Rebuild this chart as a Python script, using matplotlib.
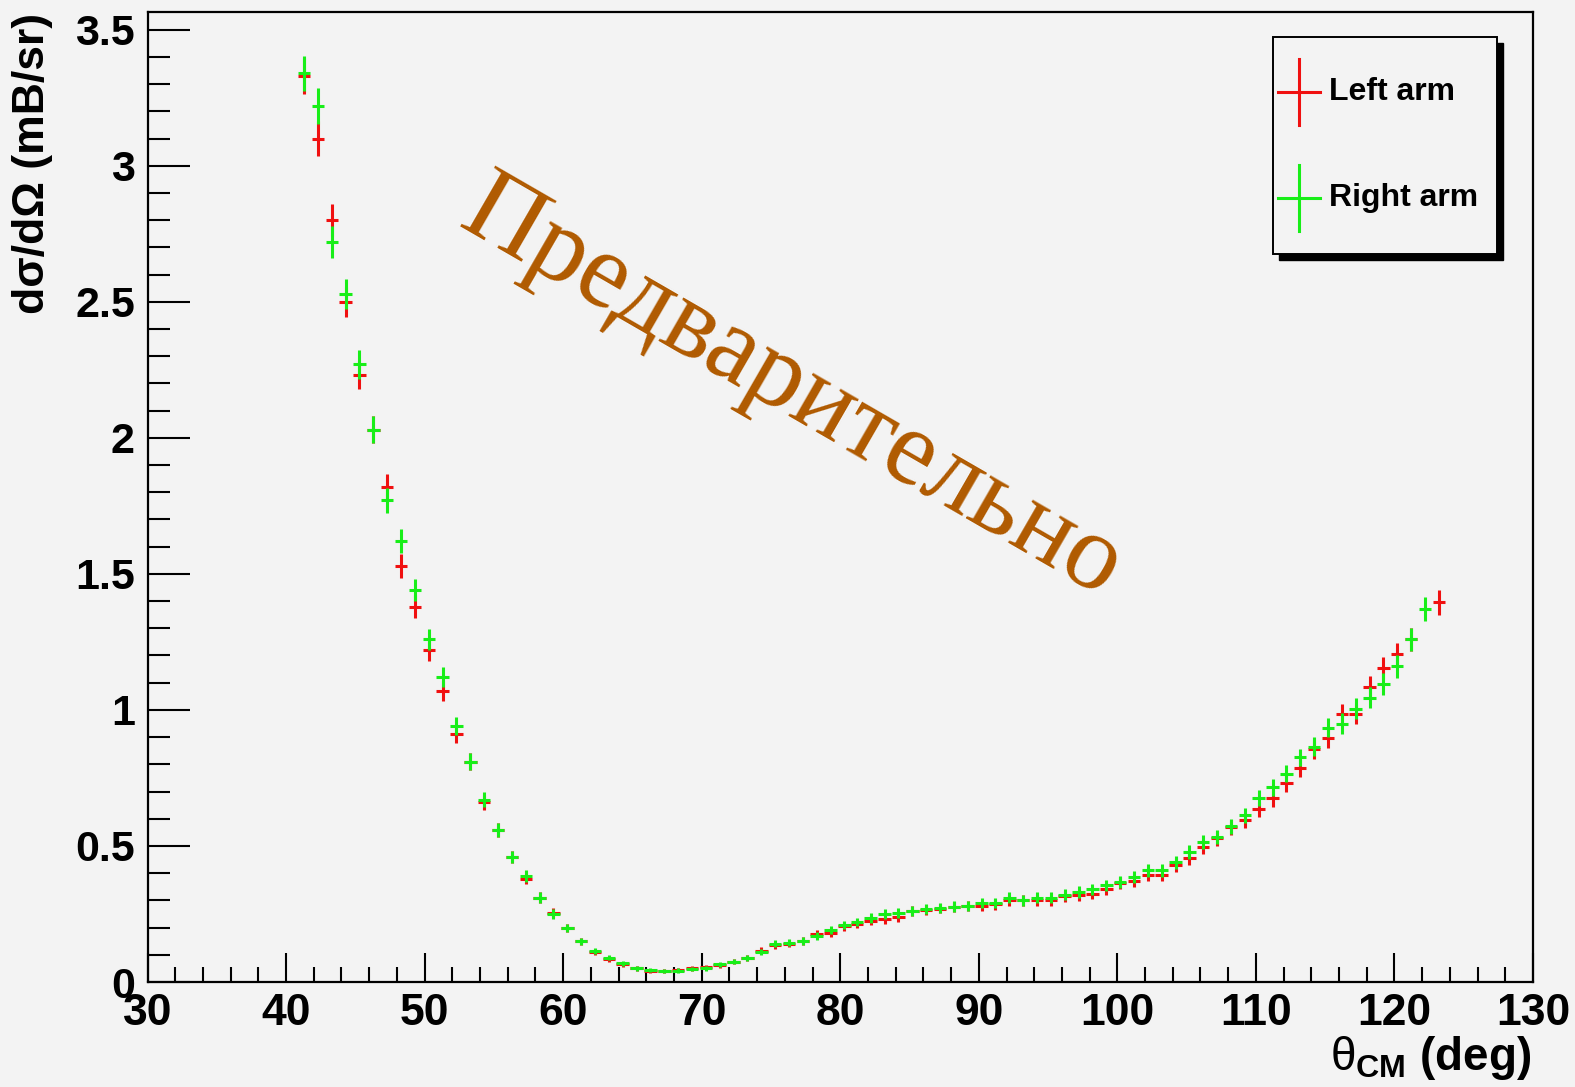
import numpy as np
import matplotlib
matplotlib.use("Agg")
import matplotlib.pyplot as plt
from matplotlib.patches import Rectangle
from matplotlib.lines import Line2D

plt.rcParams['font.family'] = ['Liberation Sans', 'DejaVu Sans']
plt.rcParams['mathtext.fontset'] = 'custom'
plt.rcParams['mathtext.rm'] = 'Liberation Sans'
plt.rcParams['mathtext.it'] = 'Liberation Sans'
plt.rcParams['mathtext.bf'] = 'Liberation Sans:bold'

nan = np.nan
theta = [41.3, 42.3, 43.3, 44.3, 45.3, 46.3, 47.3, 48.3, 49.3, 50.3,
         51.3, 52.3, 53.3, 54.3, 55.3, 56.3, 57.3, 58.3, 59.3, 60.3,
         61.3, 62.3, 63.3, 64.3, 65.3, 66.3, 67.3, 68.3, 69.3, 70.3,
         71.3, 72.3, 73.3, 74.3, 75.3, 76.3, 77.3, 78.3, 79.3, 80.3,
         81.2, 82.2, 83.2, 84.2, 85.2, 86.2, 87.2, 88.2, 89.2, 90.2,
         91.2, 92.2, 93.2, 94.2, 95.2, 96.2, 97.2, 98.2, 99.2, 100.2,
         101.2, 102.2, 103.2, 104.2, 105.2, 106.2, 107.2, 108.2, 109.2, 110.2,
         111.2, 112.2, 113.2, 114.2, 115.2, 116.2, 117.2, 118.2, 119.2, 120.2,
         121.2, 122.2, 123.2]

left_arm = [3.33, 3.10, 2.80, 2.50, 2.23, 2.03, 1.82, 1.53, 1.38, 1.22,
            1.07, 0.91, 0.81, 0.66, 0.56, 0.46, 0.38, 0.31, 0.255, 0.20,
            0.15, 0.11, 0.085, 0.065, 0.05, 0.04, 0.04, 0.043, 0.05, 0.055,
            0.062, 0.075, 0.09, 0.115, 0.135, 0.14, 0.15, 0.175, 0.18, 0.205,
            0.215, 0.225, 0.23, 0.24, 0.26, 0.265, 0.27, 0.275, 0.28, 0.28,
            0.285, 0.30, 0.30, 0.30, 0.30, 0.315, 0.32, 0.325, 0.34, 0.365,
            0.37, 0.395, 0.395, 0.43, 0.455, 0.495, 0.528, 0.568, 0.594, 0.634,
            0.675, 0.73, 0.786, 0.855, 0.895, 0.985, 0.985, 1.085, 1.155, 1.205,
            1.26, nan, 1.395]

right_arm = [3.34, 3.22, 2.72, 2.53, 2.27, 2.03, 1.77, 1.62, 1.44, 1.26,
             1.12, 0.94, 0.81, 0.67, 0.56, 0.46, 0.39, 0.31, 0.25, 0.20,
             0.15, 0.115, 0.09, 0.068, 0.05, 0.043, 0.04, 0.042, 0.047, 0.05,
             0.065, 0.075, 0.09, 0.11, 0.14, 0.145, 0.15, 0.17, 0.19, 0.21,
             0.22, 0.235, 0.25, 0.255, 0.26, 0.268, 0.273, 0.277, 0.28, 0.29,
             0.29, 0.31, 0.30, 0.31, 0.31, 0.32, 0.33, 0.34, 0.355, 0.368,
             0.385, 0.41, 0.41, 0.44, 0.477, 0.513, 0.533, 0.572, 0.612, 0.675,
             0.715, 0.766, 0.826, 0.865, 0.935, 0.95, 1.005, 1.045, 1.095, 1.16,
             1.26, 1.37, nan]

left_err = [0.065, 0.065, 0.06, 0.055, 0.052, 0.05, 0.047, 0.044, 0.041, 0.039,
            0.036, 0.033, 0.031, 0.028, 0.026, 0.023, 0.021, 0.019, 0.017, 0.015,
            0.013, 0.011, 0.01, 0.009, 0.008, 0.008, 0.008, 0.008, 0.008, 0.008,
            0.009, 0.01, 0.011, 0.012, 0.013, 0.013, 0.014, 0.015, 0.015, 0.016,
            0.016, 0.017, 0.017, 0.018, 0.018, 0.018, 0.018, 0.019, 0.019, 0.019,
            0.019, 0.02, 0.02, 0.02, 0.02, 0.02, 0.021, 0.021, 0.021, 0.022,
            0.022, 0.023, 0.023, 0.024, 0.025, 0.026, 0.027, 0.028, 0.028, 0.029,
            0.03, 0.031, 0.032, 0.034, 0.035, 0.037, 0.037, 0.038, 0.04, 0.041,
            0.042, nan, 0.045]

right_err = [0.065, 0.065, 0.058, 0.055, 0.052, 0.05, 0.047, 0.044, 0.041, 0.039,
             0.036, 0.033, 0.031, 0.028, 0.026, 0.023, 0.021, 0.019, 0.017, 0.015,
             0.013, 0.011, 0.01, 0.009, 0.008, 0.008, 0.008, 0.008, 0.008, 0.008,
             0.009, 0.01, 0.011, 0.012, 0.013, 0.013, 0.014, 0.015, 0.015, 0.016,
             0.016, 0.017, 0.017, 0.018, 0.018, 0.018, 0.018, 0.019, 0.019, 0.019,
             0.019, 0.02, 0.02, 0.02, 0.02, 0.02, 0.021, 0.021, 0.021, 0.022,
             0.022, 0.023, 0.023, 0.024, 0.025, 0.026, 0.027, 0.028, 0.028, 0.029,
             0.03, 0.031, 0.032, 0.034, 0.035, 0.037, 0.037, 0.038, 0.04, 0.041,
             0.042, 0.044, nan]

half_bin = 0.45

xticks = [30, 40, 50, 60, 70, 80, 90, 100, 110, 120, 130]
yticks = [0, 0.5, 1, 1.5, 2, 2.5, 3, 3.5]
ytick_labels = ['0', '0.5', '1', '1.5', '2', '2.5', '3', '3.5']

W, H = 1575, 1087
BG = '#f3f3f3'
RED = '#f01010'
GREEN = '#18ee18'

fig = plt.figure(figsize=(W / 100, H / 100), dpi=100, facecolor=BG)
ax = fig.add_axes([147.5 / W, 1 - 982 / H, (1533 - 147.5) / W, (982 - 12) / H])
ax.set_facecolor(BG)

ax.errorbar(theta, left_arm, yerr=left_err, xerr=half_bin, fmt='none',
            ecolor=RED, elinewidth=2.2, capsize=0, zorder=3)
ax.errorbar(theta, right_arm, yerr=right_err, xerr=half_bin, fmt='none',
            ecolor=GREEN, elinewidth=2.2, capsize=0, zorder=4)

ax.set_xlim(30, 130)
ax.set_ylim(0, 3.565)
ax.set_xticks(xticks)
ax.set_xticklabels([str(t) for t in xticks])
ax.set_yticks(yticks)
ax.set_yticklabels(ytick_labels)
ax.set_xticks(np.arange(32, 130, 2), minor=True)
ax.set_yticks(np.arange(0.1, 3.56, 0.1), minor=True)

ax.tick_params(axis='both', which='both', direction='in', top=False, right=False,
               colors='black')
ax.tick_params(axis='x', which='major', length=21, width=1.5, pad=8, labelsize=32)
ax.tick_params(axis='x', which='minor', length=11, width=1.5)
ax.tick_params(axis='y', which='major', length=30, width=1.5, pad=9, labelsize=31)
ax.tick_params(axis='y', which='minor', length=16, width=1.5)
for lab in ax.get_xticklabels() + ax.get_yticklabels():
    lab.set_fontweight('bold')
for sp in ax.spines.values():
    sp.set_linewidth(1.6)
    sp.set_color('black')

fig.text(1531 / W, 1 - 1070 / H, r'$\theta_{\mathbf{CM}}$ (deg)', ha='right',
         va='baseline', fontsize=33, fontweight='bold')
fig.text(33 / W, 1 - 13 / H, 'dσ/dΩ (mB/sr)', rotation=90, ha='center', va='top',
         fontsize=32, fontweight='bold')

# watermark
fig.text(456 / W, 1 - 226 / H, 'Предварительно', rotation=-30, rotation_mode='anchor',
         ha='left', va='baseline', fontsize=77, family='Liberation Serif',
         color='#b05a00', zorder=10)

# legend
def fx(x):
    return x / W

def fy(y):
    return 1 - y / H

fig.add_artist(Rectangle((fx(1279), fy(260)), (1503 - 1279) / W, (260 - 43) / H,
                         transform=fig.transFigure, facecolor='black',
                         edgecolor='black', zorder=20))
fig.add_artist(Rectangle((fx(1273), fy(254)), (1497 - 1273) / W, (254 - 37) / H,
                         transform=fig.transFigure, facecolor=BG,
                         edgecolor='black', linewidth=1.4, zorder=21))
for yc, col, lab in [(92, RED, 'Left arm'), (198, GREEN, 'Right arm')]:
    fig.add_artist(Line2D([fx(1278), fx(1320)], [fy(yc), fy(yc)],
                          transform=fig.transFigure, color=col, lw=2.2, zorder=22))
    fig.add_artist(Line2D([fx(1299), fx(1299)], [fy(yc - 33), fy(yc + 33)],
                          transform=fig.transFigure, color=col, lw=2.2, zorder=22))
    fig.text(fx(1329), fy(yc), lab, ha='left', va='center', fontsize=23,
             fontweight='bold', zorder=23)

fig.savefig('out.png', dpi=100, facecolor=BG)
